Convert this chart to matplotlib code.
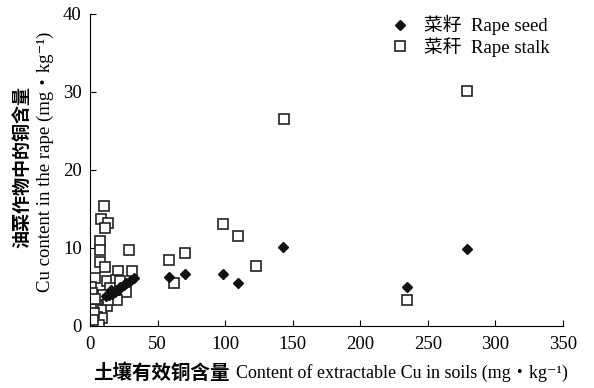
import matplotlib
matplotlib.use("Agg")
import matplotlib.pyplot as plt
from matplotlib.lines import Line2D

plt.rcParams['font.family'] = ['Liberation Serif', 'Noto Sans CJK SC', 'DejaVu Serif']

# soil extractable Cu (x) and Cu content in rape seed (y)
seed_x = [12.0, 14.0, 15.5, 16.3, 18.5, 20.7, 22.5, 25.2, 27.0, 29.6, 32.6,
          58.7, 70.6, 98.2, 109.8, 142.9, 234.4, 279.3]
seed_y = [3.8, 4.0, 4.6, 4.1, 4.4, 4.6, 5.0, 5.3, 5.5, 5.8, 6.2,
          6.3, 6.7, 6.7, 5.5, 10.1, 5.0, 9.9]

# soil extractable Cu (x) and Cu content in rape stalk (y)
stalk_x = [10.4, 7.9, 13.1, 11.1, 7.4, 7.4, 28.9, 7.4, 11.1, 20.5, 30.8, 3.7, 12.8, 19.0,
           0.5, 26.4, 20.2, 12.8, 7.9, 5.4, 9.1, 6.9, 1.5, 2.0, 1.0, 3.0, 15.0, 9.5,
           4.0, 13.5, 2.5, 22.0,
           58.7, 70.6, 62.4, 98.2, 109.8, 122.9, 143.6, 234.4, 279.3]
stalk_y = [15.4, 13.7, 13.2, 12.5, 10.9, 9.7, 9.7, 8.2, 7.5, 7.0, 7.1, 6.2, 5.7, 5.9,
           5.0, 4.4, 3.3, 2.5, 2.1, 1.2, 1.0, 0.1, 4.2, 3.0, 2.2, 1.6, 4.8, 4.0,
           3.5, 3.3, 0.8, 5.8,
           8.5, 9.3, 5.5, 13.1, 11.5, 7.7, 26.5, 3.3, 30.1]

x_ticks = [0, 50, 100, 150, 200, 250, 300, 350]
y_ticks = [0, 10, 20, 30, 40]

fig = plt.figure(figsize=(5.94, 3.88), dpi=100)
ax = fig.add_axes([0.1515, 0.16, 0.796, 0.804])

ax.plot(stalk_x, stalk_y, linestyle='none', marker='s', markersize=7,
        markerfacecolor='white', markeredgecolor='#222222', markeredgewidth=1.2, zorder=2)
ax.plot(seed_x, seed_y, linestyle='none', marker='D', markersize=5.5,
        color='#111111', zorder=3)

ax.set_xlim(0, 350)
ax.set_ylim(0, 40)
ax.set_xticks(x_ticks)
ax.set_yticks(y_ticks)
ax.tick_params(direction='in', length=4, labelsize=13.5, width=0.8)
ax.tick_params(axis='x', pad=7)
ax.tick_params(axis='y', pad=6)
for s in ['top', 'right']:
    ax.spines[s].set_visible(False)
for s in ['left', 'bottom']:
    ax.spines[s].set_linewidth(0.8)

# x axis title: Chinese part + English part
fig.text(93 / 594, 1 - 373 / 388, '土壤有效铜含量', ha='left', va='center',
         fontsize=14, fontweight='bold')
fig.text(236 / 594, 1 - 373 / 388, 'Content of extractable Cu in soils (mg・kg⁻¹)',
         ha='left', va='center', fontsize=13)

# y axis title: two lines
fig.text(22 / 594, 1 - 167 / 388, '油菜作物中的铜含量', rotation=90,
         ha='center', va='center', fontsize=13, fontweight='bold')
fig.text(45 / 594, 1 - 162 / 388, 'Cu content in the rape (mg・kg⁻¹)', rotation=90,
         ha='center', va='center', fontsize=13.5)

handles = [Line2D([], [], linestyle='none', marker='D', markersize=5.5, color='#111111'),
           Line2D([], [], linestyle='none', marker='s', markersize=7,
                  markerfacecolor='white', markeredgecolor='#222222', markeredgewidth=1.2)]
ax.legend(handles, ['菜籽  Rape seed', '菜秆  Rape stalk'], loc='upper left',
          bbox_to_anchor=(0.62, 1.02), frameon=False, fontsize=13.5,
          handlelength=1.0, handletextpad=0.8, labelspacing=0.1, borderaxespad=0)

fig.savefig('out.png', dpi=100)
